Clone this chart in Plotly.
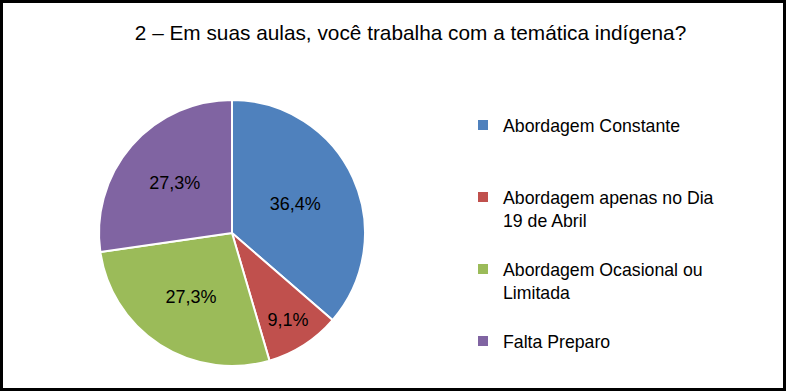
import plotly.graph_objects as go

categories = ["Abordagem Constante", "Abordagem apenas no Dia<br>19 de Abril",
              "Abordagem Ocasional ou<br>Limitada", "Falta Preparo"]
values = [36.4, 9.1, 27.3, 27.3]
colors = ["#4F81BD", "#C0504D", "#9BBB59", "#8064A2"]
title_text = "2 – Em suas aulas, você trabalha com a temática indígena?"

W, H = 786, 391

def pad(lbl, n=3):
    k = lbl.count("<br>") + 1
    return lbl + "<br> " * (n - k)

legend_labels = [pad(c) for c in categories[:-1]] + [categories[-1]]
pct_text = [f"{v:.1f}".replace(".", ",") + "%" for v in values]

cx, cy, r = 232, 233, 133

fig = go.Figure(go.Pie(
    labels=legend_labels,
    values=values,
    text=pct_text,
    textinfo="text",
    textposition="inside",
    insidetextorientation="horizontal",
    textfont=dict(family="Liberation Sans, Arial", size=18, color="black"),
    marker=dict(colors=colors, line=dict(color="white", width=2)),
    sort=False,
    direction="clockwise",
    rotation=0,
    domain=dict(x=[(cx - r) / W, (cx + r) / W], y=[(H - cy - r) / H, (H - cy + r) / H]),
    hoverinfo="none",
))

fig.update_layout(
    width=W, height=H,
    margin=dict(l=0, r=0, t=0, b=0),
    paper_bgcolor="white",
    font=dict(family="Liberation Sans, Arial", color="black"),
    title=dict(text=title_text, x=410.5 / W, xanchor="center", y=1 - 33 / H, yanchor="middle",
               font=dict(size=20.8, color="black")),
    legend=dict(x=463 / W, xanchor="left", y=1 - 107 / H, yanchor="top",
                font=dict(size=17.7, color="black"), valign="top",
                bgcolor="rgba(0,0,0,0)"),
    shapes=[dict(type="rect", xref="paper", yref="paper",
                 x0=1.5 / W, x1=1 - 1.5 / W, y0=1.5 / H, y1=1 - 1.5 / H,
                 line=dict(color="black", width=3))],
)

fig.write_html("out.html")
